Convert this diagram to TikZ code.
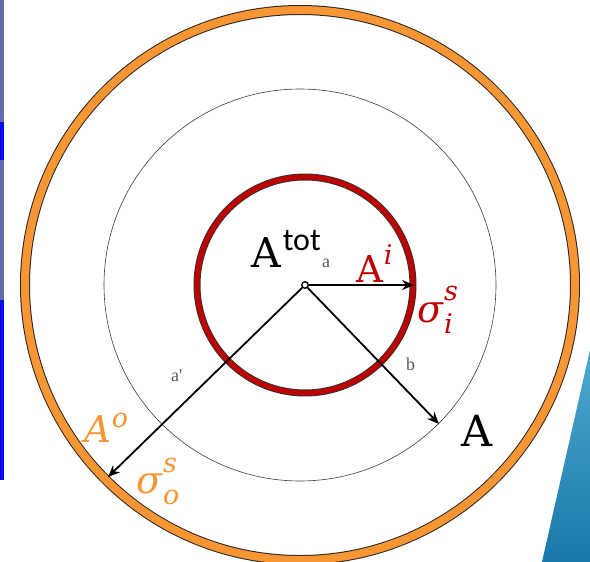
\documentclass[tikz,border=0pt]{standalone}
\usepackage{fontspec}
\newfontfamily\calibri{Carlito}
\newfontfamily\timesf{Liberation Serif}
\newfontfamily\dvs{DejaVu Serif}
\usetikzlibrary{arrows.meta}
\definecolor{myorange}{RGB}{247,150,50}
\definecolor{myred}{RGB}{192,0,0}
\definecolor{stripgrey}{RGB}{100,105,170}
\definecolor{stripblue}{RGB}{10,10,240}
\definecolor{wedgetop}{RGB}{80,168,208}
\definecolor{wedgebot}{RGB}{25,120,170}
\newcommand{\fs}[1]{\fontsize{#1}{#1}\selectfont}
\newcommand{\supsub}[4]{% base, sup, sub, raise
  #1\kern1pt\rlap{\raisebox{#4}{\fs{27}#2}}\raisebox{-11pt}{\fs{27}#3}}
\tikzset{
  lbl/.style={inner sep=0pt, anchor=base west, font=\dvs},
  smalllbl/.style={inner sep=0pt, anchor=base west, font=\timesf\fs{18}, text=black!65},
  arr/.style={line width=1.8pt, -{Stealth[length=12pt,width=10pt,inset=4pt]}},
  dot/.style={circle, draw, fill=white, inner sep=0pt, minimum size=6.5pt, line width=1.4pt}
}
\begin{document}
\begin{tikzpicture}[x=1pt,y=-1pt]
\useasboundingbox (0,0) rectangle (590,562);
\fill[white] (0,0) rectangle (590,562);
% slide background artefacts
\fill[stripgrey] (0,0) rectangle (3.5,480);
\fill[stripblue] (0,122) rectangle (3.5,160);
\fill[stripblue] (0,300) rectangle (3.5,480);
\shade[top color=wedgetop, bottom color=wedgebot] (590,350) -- (542,562) -- (590,562) -- cycle;
% circles
\draw[line width=10pt, black!85] (300,285) circle[radius=275pt];
\draw[line width=8pt, myorange] (300,285) circle[radius=275pt];
\draw[line width=0.6pt, black!75] (300,285) circle[radius=196pt];
\draw[line width=7pt, black!80] (305,285) circle[radius=108pt];
\draw[line width=5pt, myred] (305,285) circle[radius=108pt];
% centre and arrows
\node[dot] (c) at (305,285) {};
\coordinate (ei) at (414,285);
\coordinate (eb) at (439,424);
\coordinate (ea) at (108,477);
\draw[arr] (c) -- (ei);
\draw[arr] (c) -- (eb);
\draw[arr] (c) -- (ea);
% labels
\node[lbl] (Atot) at (251,267) {\fs{41}A\kern2pt\raisebox{17pt}{\calibri\fs{32}tot}};
\node[smalllbl] (la) at (322,267) {a};
\node[lbl, text=myred] (Ai) at (356,282) {\fs{37}A\kern1pt\raisebox{18pt}{\fs{27}\itshape i}};
\node[lbl, text=myred] (si) at (417,322) {\fs{38}\itshape\supsub{σ}{s}{i}{22pt}};
\node[smalllbl] (lb) at (406,370) {b};
\node[smalllbl] (lap) at (171,381) {a\textquotesingle};
\node[lbl, text=myorange] (Ao) at (84,442) {\fs{37}\itshape A\kern1pt\raisebox{15pt}{\fs{27}o}};
\node[lbl, text=myorange] (so) at (136,493) {\fs{38}\itshape\supsub{σ}{s}{o}{21pt}};
\node[lbl] (A) at (461,446) {\fs{43}A};
\end{tikzpicture}
\end{document}
